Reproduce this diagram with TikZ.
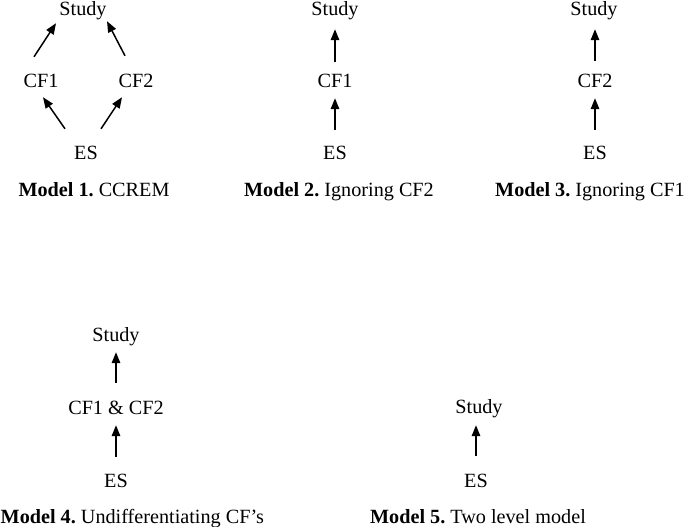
\documentclass[tikz,border=0pt]{standalone}
\usepackage{fontspec}
\setmainfont{Liberation Serif}
\frenchspacing
\usetikzlibrary{arrows.meta,calc}
\tikzset{
  lbl/.style={inner sep=0pt,text height=13.5pt,text depth=4.3pt,font=\fontsize{20.2}{24}\selectfont},
  arr/.style={line width=1.5pt,-{Triangle[length=11pt,width=8.5pt]}}
}
\begin{document}
\begin{tikzpicture}[x=1pt,y=-1pt]
\useasboundingbox (0,0) rectangle (685,527);
%model 1
\node[lbl] (s1) at (83,10.8) {Study};
\node[lbl] (cf1) at (41,82.4) {CF1};
\node[lbl] (cf2) at (136,82.4) {CF2};
\node[lbl] (es1) at (86,154.4) {ES};
\node[lbl] (m1) at (94,191.4) {\textbf{Model 1.} CCREM};
\draw[arr] ($(cf1.north)+(-7,-16.5)$) -- ($(s1.south)+(-27,3.3)$);
\draw[arr] ($(cf2.north)+(-11,-17.5)$) -- ($(s1.south)+(24,1.3)$);
\draw[arr] ($(es1.north)+(-21,-16.5)$) -- ($(cf1.south)+(2,5.7)$);
\draw[arr] ($(es1.north)+(15,-16.5)$) -- ($(cf2.south)+(-14,5.7)$);
%model 2
\node[lbl] (s2) at (335,10.8) {Study};
\node[lbl] (cf12) at (335,82.4) {CF1};
\node[lbl] (es2) at (335,154.4) {ES};
\node[lbl] (m2) at (339,191.4) {\textbf{Model 2.} Ignoring CF2};
\draw[arr,shorten <=11.5pt,shorten >=9.3pt] (cf12.north) -- (s2.south);
\draw[arr,shorten <=15.5pt,shorten >=6.7pt] (es2.north) -- (cf12.south);
%model 3
\node[lbl] (s3) at (594,10.8) {Study};
\node[lbl] (cf23) at (595,82.4) {CF2};
\node[lbl] (es3) at (595,154.4) {ES};
\node[lbl] (m3) at (590,191.4) {\textbf{Model 3.} Ignoring CF1};
\draw[arr,shorten <=12.5pt,shorten >=9.3pt] (cf23.north) -- (cf23.north |- s3.south);
\draw[arr,shorten <=15.5pt,shorten >=6.7pt] (es3.north) -- (cf23.south);
%model 4
\node[lbl] (s4) at (116,337) {Study};
\node[lbl] (cf4) at (116,409.4) {CF1 \& CF2};
\node[lbl] (es4) at (116,482.4) {ES};
\node[lbl,anchor=west] (m4) at (0.5,518.4) {\textbf{Model 4.} Undifferentiating CF's};
\draw[arr,shorten <=17.5pt,shorten >=6.1pt] (cf4.north) -- (s4.south);
\draw[arr,shorten <=16.5pt,shorten >=6.7pt] (es4.north) -- (cf4.south);
%model 5
\node[lbl] (s5) at (479,408.4) {Study};
\node[lbl] (es5) at (476,482.4) {ES};
\node[lbl] (m5) at (478,518.4) {\textbf{Model 5.} Two level model};
\draw[arr,shorten <=17.5pt,shorten >=7.7pt] (es5.north) -- (es5.north |- s5.south);
\end{tikzpicture}
\end{document}
